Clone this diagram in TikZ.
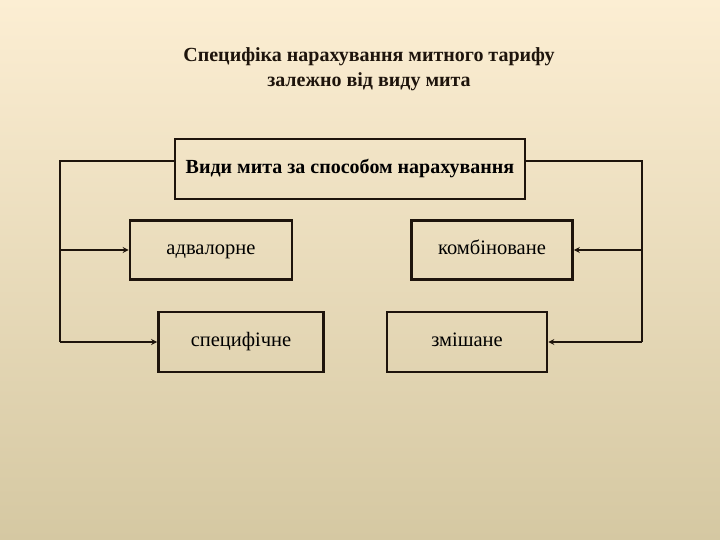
\documentclass[tikz,border=0pt]{standalone}
\usepackage{fontspec}
\setmainfont{Liberation Serif}
\usetikzlibrary{arrows.meta}

\definecolor{bgtop}{HTML}{FCEED3}
\definecolor{bgmid}{HTML}{F0E8CE}
\definecolor{bgbot}{HTML}{D5C8A2}
\definecolor{ink}{HTML}{1E140C}

\tikzset{
  box/.style={draw=ink, line width=2.6pt, inner sep=0pt, text height=14pt, text depth=4.6pt,
    font=\fontsize{20.5}{22}\selectfont},
  link/.style={draw=ink, line width=2.6pt},
  tip/.style={-{Stealth[length=6pt,width=6pt]}}
}

\begin{document}
\begin{tikzpicture}[x=1pt, y=-1pt]
  % фон
  \shade[top color=bgtop, middle color=bgmid, bottom color=bgbot] (0,0) rectangle (720,540);
  \useasboundingbox (0,0) rectangle (720,540);

  % заголовок
  \node[font=\bfseries\fontsize{20}{25}\selectfont, align=center, text=ink] (title) at (369,69)
    {Специфіка нарахування митного тарифу\\залежно від виду мита};

  % блоки
  \node[box, minimum width=350pt, minimum height=60pt, font=\bfseries\fontsize{20}{22}\selectfont] (types) at (350,169) {Види мита за способом нарахування};
  \node[box, minimum width=162pt, minimum height=59pt] (adv)  at (211,250) {адвалорне};
  \node[box, minimum width=161pt, minimum height=59pt] (comb) at (492,250) {комбіноване};
  \node[box, minimum width=165pt, minimum height=60pt] (spec) at (241,342) {специфічне};
  \node[box, minimum width=160pt, minimum height=60pt] (mix)  at (467,342) {змішане};

  % точки повороту ліній
  \coordinate (L) at (60,161);
  \coordinate (R) at (642,161);

  % ліва гілка
  \draw[link] (types.west |- L) -- (L) -- (L |- spec.west);
  \draw[link, tip] (L |- adv.west) -- (adv.west);
  \draw[link, tip] (L |- spec.west) -- (spec.west);

  % права гілка
  \draw[link] (types.east |- R) -- (R) -- (R |- mix.east);
  \draw[link, tip] (R |- comb.east) -- (comb.east);
  \draw[link, tip] (R |- mix.east) -- (mix.east);
\end{tikzpicture}
\end{document}
